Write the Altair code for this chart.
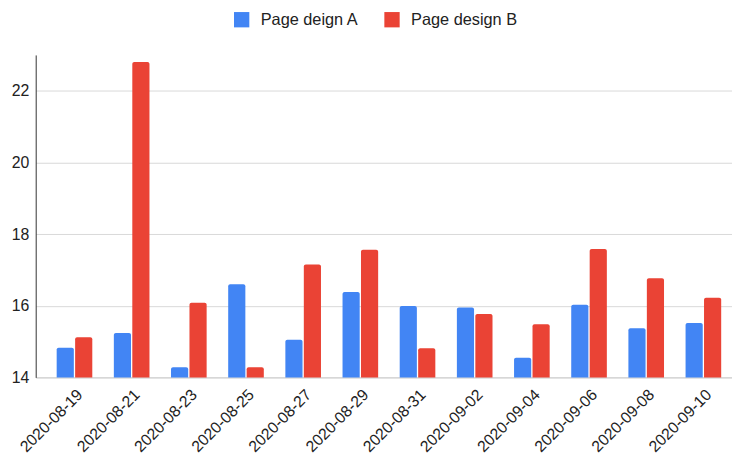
import altair as alt
import pandas as pd

dates = ["2020-08-19", "2020-08-21", "2020-08-23", "2020-08-25", "2020-08-27", "2020-08-29",
         "2020-08-31", "2020-09-02", "2020-09-04", "2020-09-06", "2020-09-08", "2020-09-10"]
series_names = ["Page deign A", "Page design B"]
design_a = [14.83, 15.24, 14.28, 16.60, 15.05, 16.38, 15.99, 15.95, 14.55, 16.03, 15.37, 15.52]
design_b = [15.12, 22.80, 16.08, 14.28, 17.15, 17.56, 14.81, 15.77, 15.48, 17.58, 16.77, 16.22]
colors = ["#4285F4", "#EA4335"]

rows = []
for d, a, b in zip(dates, design_a, design_b):
    rows.append({"date": d, "series": series_names[0], "value": a})
    rows.append({"date": d, "series": series_names[1], "value": b})
df = pd.DataFrame(rows)

font = "Liberation Sans"

chart = alt.Chart(df).mark_bar(
    cornerRadiusTopLeft=2, cornerRadiusTopRight=2
).encode(
    x=alt.X("date:N", sort=dates, title=None,
            scale=alt.Scale(paddingInner=0.377, paddingOuter=0.278, align=0.66),
            axis=alt.Axis(labelAngle=-45, ticks=False, domain=True, domainColor="#cccccc",
                          labelFontSize=16, labelColor="#222222", labelPadding=9,
                          labelFont=font, grid=False)),
    xOffset=alt.XOffset("series:N", sort=series_names,
                        scale=alt.Scale(paddingInner=0.07, paddingOuter=0)),
    y=alt.Y("value:Q", title=None,
            scale=alt.Scale(domain=[14, 23], zero=False, nice=False),
            axis=alt.Axis(values=[14, 16, 18, 20, 22], ticks=False, domain=True,
                          domainColor="#333333", gridColor="#d9d9d9",
                          labelFontSize=16, labelColor="#222222", labelPadding=7,
                          labelFont=font)),
    y2=alt.datum(14),
    color=alt.Color("series:N", sort=series_names,
                    scale=alt.Scale(domain=series_names, range=colors),
                    legend=alt.Legend(title=None, orient="none", direction="horizontal",
                                      legendX=200, legendY=-44, symbolType="square",
                                      symbolSize=240, symbolStrokeWidth=0,
                                      labelFontSize=16.5, labelFont=font,
                                      labelColor="#222222", labelOffset=11,
                                      columnPadding=25)),
).properties(
    width=704, height=326,
    autosize=alt.AutoSizeParams(type="none"),
    padding={"left": 28, "top": 45, "right": 0, "bottom": 75},
).configure_view(stroke=None)

chart.save("out.html", embed_options={"renderer": "svg", "actions": False})
